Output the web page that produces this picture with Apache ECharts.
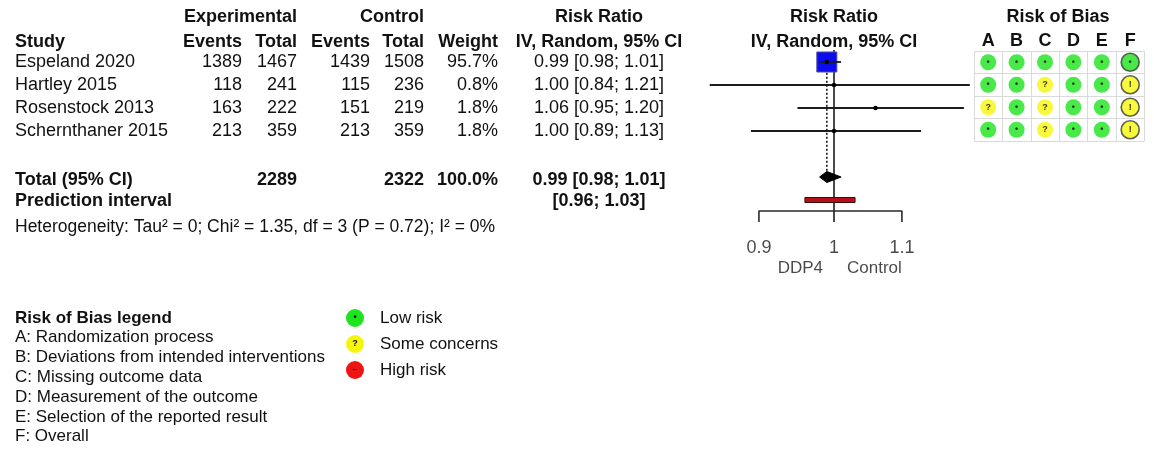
<!DOCTYPE html>
<html>
<head>
<meta charset="utf-8">
<title>Forest plot – Risk Ratio, DDP4 vs Control</title>
<script src="https://cdn.jsdelivr.net/npm/echarts@6/dist/echarts.min.js"></script>
<style>
  html, body { margin: 0; padding: 0; background: #ffffff; }
  #chart { width: 1154px; height: 449px; }
</style>
</head>
<body>
<div id="chart"></div>
<script>
// ---- study data ----
const studies     = ['Espeland 2020', 'Hartley 2015', 'Rosenstock 2013', 'Schernthaner 2015'];
const expEvents   = [1389, 118, 163, 213];
const expTotal    = [1467, 241, 222, 359];
const ctrlEvents  = [1439, 115, 151, 213];
const ctrlTotal   = [1508, 236, 219, 359];
const weights     = [95.7, 0.8, 1.8, 1.8];
const rr          = [0.99, 1.00, 1.06, 1.00];
const rrLower     = [0.98, 0.84, 0.95, 0.89];
const rrUpper     = [1.01, 1.21, 1.20, 1.13];

// ---- pooled results ----
const totalN        = [2289, 2322];          // experimental, control
const totalWeight   = 100.0;
const pooledRR      = [0.99, 0.98, 1.01];    // estimate, lower, upper
const predInterval  = [0.96, 1.03];
const heterogeneity = { tau2: '0', chi2: '1.35', df: 3, p: '0.72', i2: '0%' };

// ---- axis ----
const axisTicks  = [0.9, 1, 1.1];
const sideLabels = ['DDP4', 'Control'];

// ---- risk of bias ----
const robDomains = ['A', 'B', 'C', 'D', 'E', 'F'];
const robJudgements = [
  ['L', 'L', 'L', 'L', 'L', 'L'],
  ['L', 'L', 'S', 'L', 'L', 'S'],
  ['S', 'L', 'S', 'L', 'L', 'S'],
  ['L', 'L', 'S', 'L', 'L', 'S']
];
const robDomainNames = [
  'A: Randomization process',
  'B: Deviations from intended interventions',
  'C: Missing outcome data',
  'D: Measurement of the outcome',
  'E: Selection of the reported result',
  'F: Overall'
];
const robLevels = ['Low risk', 'Some concerns', 'High risk'];

// ---- styling ----
const FONT_FAMILY = '"Liberation Sans", Arial, sans-serif';
const INK = '#111111';
const ROB_COLORS = { L: '#1de41d', S: '#f6f60c', H: '#ee1414' };
const ROB_GLYPHS = { L: '•', S: '?', H: '–' };

function fmt2(v) { return v.toFixed(2); }
function ciText(est, lo, hi) { return fmt2(est) + ' [' + fmt2(lo) + '; ' + fmt2(hi) + ']'; }

function text(str, x, y, size, bold, align) {
  return {
    type: 'text', x: x, y: y, silent: true,
    style: {
      text: str,
      font: (bold ? 'bold ' : '') + size + 'px ' + FONT_FAMILY,
      fill: INK,
      align: align || 'left', verticalAlign: 'middle',
      textAlign: align || 'left', textVerticalAlign: 'middle'
    }
  };
}

// ---- table layout ----
const ROW0 = 62, ROW_STEP = 23;
const col = { study: 15, expEv: 242, expTot: 297, ctlEv: 370, ctlTot: 424, weight: 498, rr: 599 };
const HEAD1 = 17, HEAD2 = 42;
const FS = 18;

const graphics = [];
graphics.push(text('Experimental', col.expTot, HEAD1, FS, true, 'right'));
graphics.push(text('Control', col.ctlTot, HEAD1, FS, true, 'right'));
graphics.push(text('Risk Ratio', col.rr, HEAD1, FS, true, 'center'));
graphics.push(text('Study', col.study, HEAD2, FS, true, 'left'));
graphics.push(text('Events', col.expEv, HEAD2, FS, true, 'right'));
graphics.push(text('Total', col.expTot, HEAD2, FS, true, 'right'));
graphics.push(text('Events', col.ctlEv, HEAD2, FS, true, 'right'));
graphics.push(text('Total', col.ctlTot, HEAD2, FS, true, 'right'));
graphics.push(text('Weight', col.weight, HEAD2, FS, true, 'right'));
graphics.push(text('IV, Random, 95% CI', col.rr, HEAD2, FS, true, 'center'));

// forest + risk-of-bias headers
graphics.push(text('Risk Ratio', 834, HEAD1, FS, true, 'center'));
graphics.push(text('IV, Random, 95% CI', 834, HEAD2, FS, true, 'center'));
graphics.push(text('Risk of Bias', 1058, HEAD1, FS, true, 'center'));

studies.forEach(function (s, i) {
  const y = ROW0 + i * ROW_STEP;
  graphics.push(text(s, col.study, y, FS, false, 'left'));
  graphics.push(text(String(expEvents[i]), col.expEv, y, FS, false, 'right'));
  graphics.push(text(String(expTotal[i]), col.expTot, y, FS, false, 'right'));
  graphics.push(text(String(ctrlEvents[i]), col.ctlEv, y, FS, false, 'right'));
  graphics.push(text(String(ctrlTotal[i]), col.ctlTot, y, FS, false, 'right'));
  graphics.push(text(weights[i].toFixed(1) + '%', col.weight, y, FS, false, 'right'));
  graphics.push(text(ciText(rr[i], rrLower[i], rrUpper[i]), col.rr, y, FS, false, 'center'));
});

const Y_TOTAL = 180, Y_PRED = 201, Y_HET = 227;
graphics.push(text('Total (95% CI)', col.study, Y_TOTAL, FS, true, 'left'));
graphics.push(text(String(totalN[0]), col.expTot, Y_TOTAL, FS, true, 'right'));
graphics.push(text(String(totalN[1]), col.ctlTot, Y_TOTAL, FS, true, 'right'));
graphics.push(text(totalWeight.toFixed(1) + '%', col.weight, Y_TOTAL, FS, true, 'right'));
graphics.push(text(ciText(pooledRR[0], pooledRR[1], pooledRR[2]), col.rr, Y_TOTAL, FS, true, 'center'));
graphics.push(text('Prediction interval', col.study, Y_PRED, FS, true, 'left'));
graphics.push(text('[' + fmt2(predInterval[0]) + '; ' + fmt2(predInterval[1]) + ']', col.rr, Y_PRED, FS, true, 'center'));
graphics.push(text('Heterogeneity: Tau² = ' + heterogeneity.tau2 + '; Chi² = ' + heterogeneity.chi2 +
  ', df = ' + heterogeneity.df + ' (P = ' + heterogeneity.p + '); I² = ' + heterogeneity.i2,
  col.study, Y_HET, 17.5, false, 'left'));

// ---- risk of bias legend ----
const LEG_Y0 = 318, LEG_STEP = 19.8, LEG_FS = 17;
graphics.push(text('Risk of Bias legend', col.study, LEG_Y0, LEG_FS, true, 'left'));
robDomainNames.forEach(function (d, i) {
  graphics.push(text(d, col.study, LEG_Y0 + (i + 1) * LEG_STEP, LEG_FS, false, 'left'));
});
['L', 'S', 'H'].forEach(function (k, i) {
  const cy = 318 + i * 26;
  graphics.push({
    type: 'circle', silent: true,
    shape: { cx: 355, cy: cy, r: 9 },
    style: { fill: ROB_COLORS[k] }
  });
  graphics.push({
    type: 'text', x: 355, y: cy, silent: true,
    style: {
      text: ROB_GLYPHS[k], font: 'bold 9px ' + FONT_FAMILY, fill: '#000',
      align: 'center', verticalAlign: 'middle', textAlign: 'center', textVerticalAlign: 'middle'
    }
  });
  graphics.push(text(robLevels[i], 380, cy, LEG_FS, false, 'left'));
});

// ---- forest plot marks ----
const ROW_TOTAL = 5, ROW_PRED = 6, ROW_AXIS = 6.48, ROW_TICK_END = 6.96;
const ROW_TICK_LABEL = 8.1, ROW_SIDE_LABEL = 8.96;
const maxWeight = Math.max.apply(null, weights);
const SQUARE_MAX = 20;

const lineColor = '#1c1c1c';

const option = {
  animation: false,
  backgroundColor: '#ffffff',
  textStyle: { fontFamily: FONT_FAMILY },
  graphic: { elements: graphics },
  grid: [
    { left: 675, top: 39, width: 318, height: 241.5, containLabel: false },
    { left: 974, top: 51, width: 170.4, height: 90, containLabel: false }
  ],
  xAxis: [
    { type: 'log', logBase: 10, gridIndex: 0, min: 0.8, max: 1.25, show: false },
    {
      type: 'category', gridIndex: 1, data: robDomains, position: 'top',
      axisLine: { show: false }, axisTick: { show: false },
      axisLabel: { fontSize: 18, fontWeight: 'bold', color: INK, margin: 1, fontFamily: FONT_FAMILY },
      splitLine: { show: true, lineStyle: { color: '#dadada', width: 1 } }
    }
  ],
  yAxis: [
    { type: 'value', gridIndex: 0, min: -1, max: 9.5, inverse: true, show: false },
    {
      type: 'category', gridIndex: 1, data: studies, inverse: true,
      axisLine: { show: false }, axisTick: { show: false }, axisLabel: { show: false },
      splitLine: { show: true, lineStyle: { color: '#dadada', width: 1 } }
    }
  ],
  series: [
    // line of no effect
    {
      type: 'line', xAxisIndex: 0, yAxisIndex: 0, silent: true, symbol: 'none', z: 2,
      data: [[1, -0.52], [1, ROW_TICK_END]],
      lineStyle: { color: lineColor, width: 1.6 }
    },
    // pooled estimate reference (dotted)
    {
      type: 'line', xAxisIndex: 0, yAxisIndex: 0, silent: true, symbol: 'none', z: 2,
      data: [[pooledRR[0], -0.4], [pooledRR[0], ROW_TOTAL - 0.22]],
      lineStyle: { color: lineColor, width: 1.6, type: [2, 2] }
    },
    // study estimates with CI
    {
      type: 'custom', xAxisIndex: 0, yAxisIndex: 0, silent: true, z: 3,
      data: studies.map(function (s, i) { return [rr[i], rrLower[i], rrUpper[i], weights[i], i]; }),
      encode: { x: [0, 1, 2], y: 4 },
      renderItem: function (params, api) {
        const row = api.value(4);
        const c = api.coord([api.value(0), row]);
        const lo = api.coord([api.value(1), row]);
        const hi = api.coord([api.value(2), row]);
        const side = SQUARE_MAX * Math.sqrt(api.value(3) / maxWeight);
        const children = [];
        if (side > 4) {
          children.push({
            type: 'rect',
            shape: { x: c[0] - side / 2, y: c[1] - side / 2, width: side, height: side },
            style: { fill: '#0c0cf2', stroke: '#4a4a9a', lineWidth: 1 }
          });
        }
        children.push({
          type: 'line',
          shape: { x1: lo[0], y1: lo[1], x2: hi[0], y2: hi[1] },
          style: { stroke: lineColor, lineWidth: 1.8 }
        });
        children.push({
          type: 'circle', shape: { cx: c[0], cy: c[1], r: 2.2 }, style: { fill: '#000' }
        });
        return { type: 'group', children: children };
      }
    },
    // pooled diamond
    {
      type: 'custom', xAxisIndex: 0, yAxisIndex: 0, silent: true, z: 4,
      data: [[pooledRR[0], pooledRR[1], pooledRR[2], ROW_TOTAL]],
      encode: { x: [0, 1, 2], y: 3 },
      renderItem: function (params, api) {
        const row = api.value(3);
        const c = api.coord([api.value(0), row]);
        const lo = api.coord([api.value(1), row]);
        const hi = api.coord([api.value(2), row]);
        const h = 5.5;
        return {
          type: 'polygon',
          shape: { points: [[lo[0], c[1]], [c[0], c[1] - h], [hi[0], c[1]], [c[0], c[1] + h]] },
          style: { fill: '#000', stroke: '#000', lineWidth: 1 }
        };
      }
    },
    // prediction interval bar
    {
      type: 'custom', xAxisIndex: 0, yAxisIndex: 0, silent: true, z: 4,
      data: [[predInterval[0], predInterval[1], ROW_PRED]],
      encode: { x: [0, 1], y: 2 },
      renderItem: function (params, api) {
        const lo = api.coord([api.value(0), api.value(2)]);
        const hi = api.coord([api.value(1), api.value(2)]);
        const h = 5;
        return {
          type: 'rect',
          shape: { x: lo[0], y: lo[1] - h / 2, width: hi[0] - lo[0], height: h },
          style: { fill: '#b3121a', stroke: '#3a0a0a', lineWidth: 1 }
        };
      }
    },
    // axis bracket
    {
      type: 'line', xAxisIndex: 0, yAxisIndex: 0, silent: true, symbol: 'none', z: 2,
      data: [
        [axisTicks[0], ROW_TICK_END], [axisTicks[0], ROW_AXIS],
        [axisTicks[axisTicks.length - 1], ROW_AXIS], [axisTicks[axisTicks.length - 1], ROW_TICK_END]
      ],
      lineStyle: { color: '#2a2a2a', width: 1.6 }
    },
    // tick labels
    {
      type: 'scatter', xAxisIndex: 0, yAxisIndex: 0, silent: true, symbolSize: 0,
      data: axisTicks.map(function (t) { return [t, ROW_TICK_LABEL]; }),
      label: {
        show: true, position: 'inside', color: '#1a1a1a', fontSize: 18, fontFamily: FONT_FAMILY,
        formatter: function (p) { return String(p.value[0]); }
      }
    },
    // direction labels
    {
      type: 'scatter', xAxisIndex: 0, yAxisIndex: 0, silent: true, symbolSize: 0,
      data: [
        { value: [1, ROW_SIDE_LABEL], name: sideLabels[0], label: { align: 'right', offset: [-11, 0] } },
        { value: [1, ROW_SIDE_LABEL], name: sideLabels[1], label: { align: 'left', offset: [13, 0] } }
      ],
      label: {
        show: true, position: 'inside', color: '#1a1a1a', fontSize: 17, fontFamily: FONT_FAMILY,
        formatter: function (p) { return p.name; }
      }
    },
    // risk of bias cells
    {
      type: 'scatter', xAxisIndex: 1, yAxisIndex: 1, silent: true, z: 5,
      data: (function () {
        const out = [];
        robJudgements.forEach(function (row, i) {
          row.forEach(function (j, d) {
            const overall = d === robDomains.length - 1;
            out.push({
              value: [d, i],
              symbolSize: overall ? 18 : 16,
              itemStyle: {
                color: ROB_COLORS[j],
                borderColor: overall ? '#3a3a3a' : ROB_COLORS[j],
                borderWidth: overall ? 1.6 : 0
              },
              label: {
                formatter: j === 'S' && overall ? '!' : ROB_GLYPHS[j],
                fontSize: 9
              }
            });
          });
        });
        return out;
      })(),
      label: {
        show: true, position: 'inside', color: '#000', fontWeight: 'bold', fontFamily: FONT_FAMILY
      }
    }
  ]
};

const chart = echarts.init(document.getElementById('chart'), null, { renderer: 'canvas' });
chart.setOption(option);
</script>
</body>
</html>
